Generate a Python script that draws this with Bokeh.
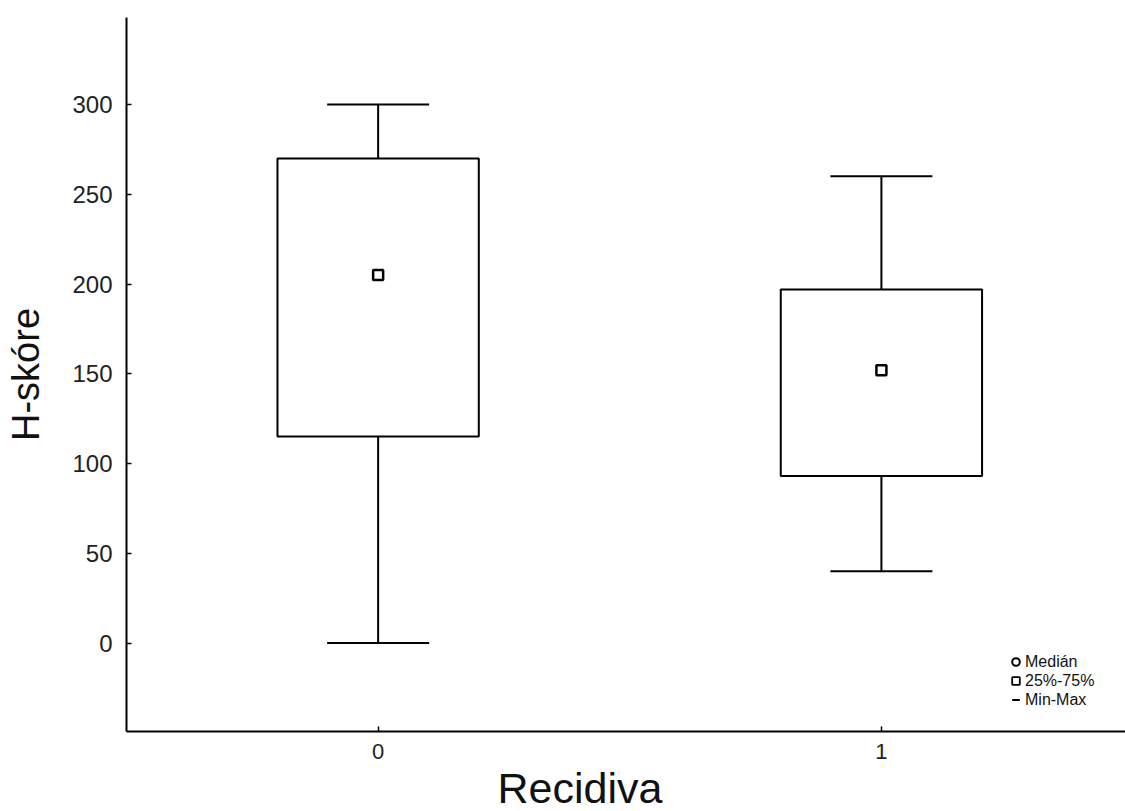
import numpy as np
from bokeh.plotting import figure
from bokeh.models import (FixedTicker, Range1d, Legend, LegendItem, ColumnDataSource,
                          Title, Whisker, TeeHead)
from bokeh.embed import file_html
from bokeh.resources import INLINE

# ---- data ----
groups = [0, 1]
group_labels = ["0", "1"]
mins = [0, 40]
q1 = [115, 93]
medians = [205, 152]
q3 = [270, 197]
maxs = [300, 260]
y_ticks = [0, 50, 100, 150, 200, 250, 300]
legend_labels = ["Medián", "25%-75%", "Min-Max"]

FONT = "Liberation Sans"

p = figure(width=1125, height=811, output_backend="svg", toolbar_location=None,
           x_range=Range1d(-0.5, 1.485), y_range=Range1d(-49.3, 348.5),
           min_border_left=126, min_border_right=0, min_border_top=17,
           min_border_bottom=0)
p.grid.visible = False
p.outline_line_color = None
p.background_fill_color = "white"
p.border_fill_color = "white"

src = ColumnDataSource(dict(x=groups, lo=mins, q1=q1, med=medians, q3=q3, hi=maxs))

w = Whisker(base="x", lower="lo", upper="hi", source=src, level="underlay",
            line_color="black", line_width=2,
            lower_head=TeeHead(size=102, line_color="black", line_width=2),
            upper_head=TeeHead(size=102, line_color="black", line_width=2))
p.add_layout(w)

p.vbar(x="x", width=0.4, bottom="q1", top="q3", source=src,
       fill_color="white", line_color="black", line_width=2)
p.scatter(x="x", y="med", source=src, marker="square", size=10,
          fill_color="white", line_color="black", line_width=2.5)

# legend dummy renderers
nan = np.array([np.nan])
r_med = p.scatter(x=nan, y=nan, marker="circle", size=6, fill_color="white",
                  line_color="black", line_width=2)
r_box = p.scatter(x=nan, y=nan, marker="square", size=11, fill_color="white",
                  line_color="black", line_width=1.8)
r_mm = p.scatter(x=nan, y=nan, marker="dash", angle=np.pi / 2, size=13,
                 line_color="black", line_width=2)
legend = Legend(items=[LegendItem(label=legend_labels[0], renderers=[r_med]),
                       LegendItem(label=legend_labels[1], renderers=[r_box]),
                       LegendItem(label=legend_labels[2], renderers=[r_mm])],
                location=(880, 22), label_text_font_size="16px", label_text_font=FONT,
                label_text_color="#111111",
                glyph_width=19, glyph_height=19, label_height=18, spacing=0,
                padding=0, margin=0, label_standoff=0, border_line_alpha=0,
                background_fill_alpha=0)
p.add_layout(legend)

# axes
p.xaxis.ticker = FixedTicker(ticks=groups)
p.xaxis.major_label_overrides = {g: l for g, l in zip(groups, group_labels)}
p.yaxis.ticker = FixedTicker(ticks=y_ticks)
for ax in (p.xaxis, p.yaxis):
    ax.major_tick_in = 5
    ax.major_tick_out = 0
    ax.minor_tick_line_color = None
    ax.axis_line_width = 2
    ax.axis_line_color = "black"
    ax.major_tick_line_color = "black"
    ax.major_tick_line_width = 1.5
    ax.major_label_text_font = FONT
    ax.major_label_text_color = "#222222"
p.yaxis.major_label_text_font_size = "24px"
p.yaxis.major_label_standoff = 14
p.xaxis.major_label_text_font_size = "22px"
p.xaxis.major_label_standoff = 12

p.yaxis.axis_label = "H-skóre"
p.yaxis.axis_label_text_font = FONT
p.yaxis.axis_label_text_font_size = "38px"
p.yaxis.axis_label_text_font_style = "normal"
p.yaxis.axis_label_text_color = "#111111"
p.yaxis.axis_label_standoff = 22

t = Title(text="Recidiva", align="left", offset=371, text_font_size="43px",
          text_font_style="normal", text_font=FONT, text_color="#111111",
          standoff=0)
p.add_layout(t, "below")

open("out.html", "w").write(file_html(p, INLINE))
